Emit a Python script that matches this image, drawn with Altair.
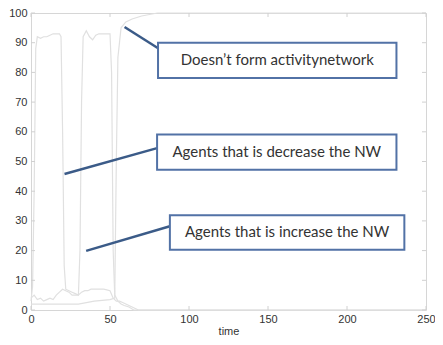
import altair as alt
import pandas as pd

# --- series data ---
t_dec = [0, 1, 2, 3, 4, 6, 8, 10, 12, 14, 16, 18, 19, 20, 21, 22, 24, 26, 28, 30, 32, 34, 36, 38, 40, 42, 44, 46, 48, 50, 52, 54, 56, 58, 60, 62, 64, 66, 68, 250]
v_dec = [3, 8, 40, 88, 92, 91.5, 92, 92, 92.5, 93, 93, 93, 92, 60, 15, 7, 6.5, 6, 5.5, 5, 6, 6.5, 6.5, 7, 7, 7, 7, 7, 6.8, 6.5, 4, 3, 3, 2.5, 2, 1.5, 1, 0.5, 0, 0]

t_inc = [0, 2, 4, 6, 8, 10, 12, 14, 16, 18, 20, 22, 24, 26, 28, 30, 31, 32, 33, 35, 37, 39, 41, 43, 45, 47, 49, 50, 51, 52, 53, 55, 57, 59, 62, 65, 250]
v_inc = [4, 5, 3.5, 4, 3, 3.5, 4, 3.5, 5, 6, 7, 6.5, 6, 5, 5, 5, 20, 70, 92, 94, 92, 91, 92.5, 93, 93, 93, 93, 93, 80, 20, 5, 3, 2, 1.5, 1, 0, 0]

t_none = [0, 10, 20, 30, 40, 50, 53, 54, 55, 57, 60, 64, 70, 80, 250]
v_none = [2, 2, 2, 2, 3, 3.5, 4, 50, 85, 95, 97, 98, 99, 100, 100]

# --- annotations (data units) ---
box_labels = ["Doesn\u2019t form activitynetwork", "Agents that is decrease the NW", "Agents that is increase the NW"]
box_x1 = [80.4, 79.8, 87.9]
box_x2 = [231.3, 231.3, 236.3]
box_y1 = [90.0, 59.1, 31.9]
box_y2 = [78.1, 47.2, 20.3]
ptr_x1 = [59.2, 21.2, 34.9]
ptr_y1 = [95.3, 45.8, 19.9]
ptr_x2 = [81.7, 79.8, 87.9]
ptr_y2 = [87.7, 54.5, 28.2]

x_ticks = [0, 50, 100, 150, 200, 250]
y_ticks = [0, 10, 20, 30, 40, 50, 60, 70, 80, 90, 100]

W, H = 395, 297

rows = []
for name, ts, vs in [("dec", t_dec, v_dec), ("inc", t_inc, v_inc), ("none", t_none, v_none)]:
    for i, (t, v) in enumerate(zip(ts, vs)):
        rows.append({"series": name, "t": t, "v": v, "o": i})
lines_df = pd.DataFrame(rows)

boxes = pd.DataFrame({"label": box_labels, "x1": box_x1, "x2": box_x2, "y1": box_y1, "y2": box_y2})
boxes["xm"] = (boxes.x1 + boxes.x2) / 2
boxes["ym"] = (boxes.y1 + boxes.y2) / 2
ptrs = pd.DataFrame({"x1": ptr_x1, "y1": ptr_y1, "x2": ptr_x2, "y2": ptr_y2})

xs = alt.Scale(domain=[0, 250], nice=False)
ys = alt.Scale(domain=[0, 100], nice=False)

xaxis = alt.Axis(values=x_ticks, ticks=False, domain=False, grid=False, labelFont="Liberation Sans",
                 labelFontSize=11, labelColor="#333", labelPadding=3, title="time",
                 titleFont="Liberation Sans", titleFontSize=11, titleFontWeight="normal",
                 titleColor="#333", titlePadding=1, labelFlush=False, labelOverlap=False)
yaxis = alt.Axis(values=y_ticks, ticks=False, domain=False, grid=False, labelFont="Liberation Sans",
                 labelFontSize=11, labelColor="#333", labelPadding=4, title=None,
                 labelOverlap=False, labelFlush=False)

X_ = lambda f: alt.X(f, scale=xs, axis=xaxis)
Y_ = lambda f: alt.Y(f, scale=ys, axis=yaxis)

base_lines = alt.Chart(lines_df).mark_line(strokeWidth=1.2, interpolate="linear").encode(
    x=X_("t:Q"),
    y=Y_("v:Q"),
    detail="series:N",
    order="o:Q",
    color=alt.value("#e0e0e0"),
)

# inward ticks on all four sides
xt = pd.DataFrame({"t": x_ticks})
yt = pd.DataFrame({"v": y_ticks})
tick_color = "#d0d0d0"
xt_bot = alt.Chart(xt).mark_rule(color=tick_color).encode(x=X_("t:Q"), y=alt.value(H), y2=alt.value(H - 4))
xt_top = alt.Chart(xt).mark_rule(color=tick_color).encode(x=X_("t:Q"), y=alt.value(0), y2=alt.value(4))
yt_l = alt.Chart(yt).mark_rule(color=tick_color).encode(y=Y_("v:Q"), x=alt.value(0), x2=alt.value(4))
yt_r = alt.Chart(yt).mark_rule(color=tick_color).encode(y=Y_("v:Q"), x=alt.value(W), x2=alt.value(W - 4))

pointer = alt.Chart(ptrs).mark_rule(color="#3b5b88", strokeWidth=2.5).encode(
    x=X_("x1:Q"), y=Y_("y1:Q"), x2="x2:Q", y2="y2:Q")

rects = alt.Chart(boxes).mark_rect(fill="white", stroke="#5272a6", strokeWidth=2).encode(
    x=X_("x1:Q"), x2="x2:Q", y=Y_("y1:Q"), y2="y2:Q")

texts = alt.Chart(boxes).mark_text(font="Lato", fontSize=15, color="#333", align="center",
                                    baseline="middle").encode(
    x=X_("xm:Q"), y=Y_("ym:Q"), text="label:N")

chart = alt.layer(base_lines, xt_bot, xt_top, yt_l, yt_r, pointer, rects, texts).properties(
    width=W, height=H,
    autosize="none",
    padding={"left": 23, "top": 5, "right": 9, "bottom": 27},
).configure_view(stroke="#d6d6d6", strokeWidth=1)

chart.save("out.html", embed_options={"renderer": "svg", "actions": False})
